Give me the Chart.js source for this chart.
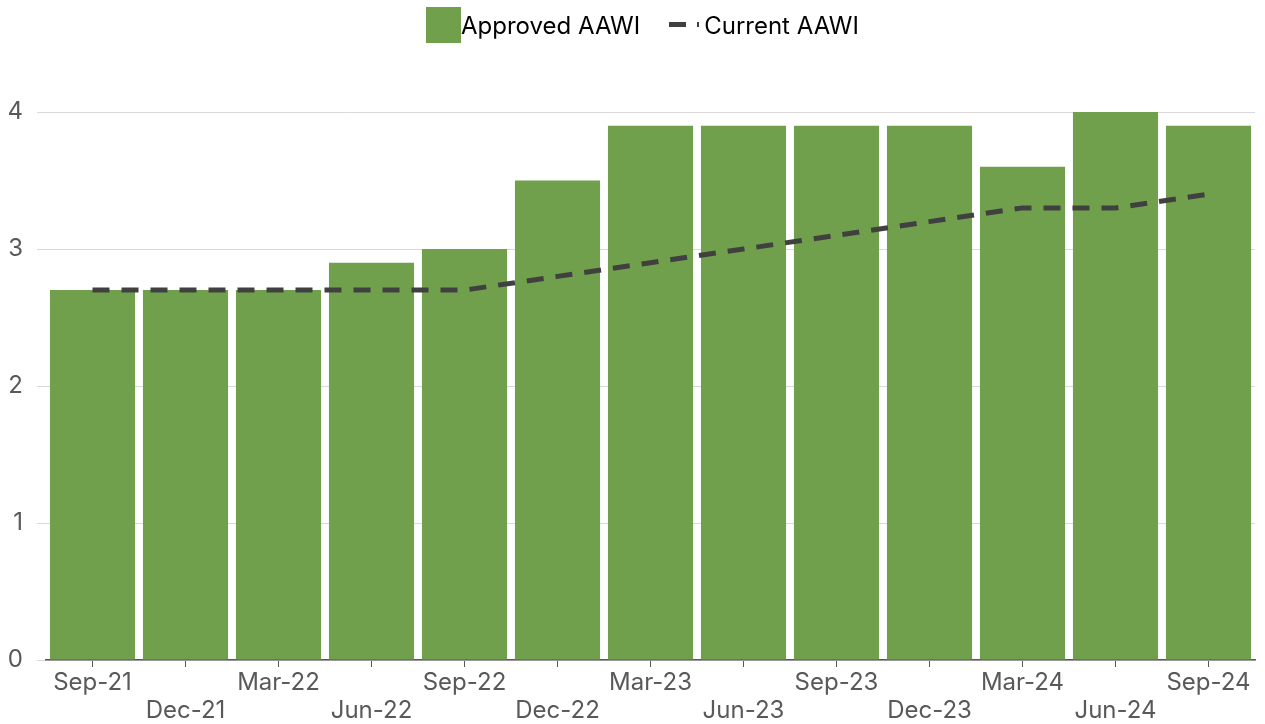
<!DOCTYPE html>
<html>
<head>
<meta charset="utf-8">
<script src="https://cdn.jsdelivr.net/npm/chart.js@4.4.1/dist/chart.umd.min.js"></script>
<style>
  html, body { margin: 0; padding: 0; background: #fff; }
  #wrap { position: relative; width: 1265px; height: 724px; }
  #legend {
    position: absolute; top: 7px; left: 426px;
    display: flex; align-items: center;
    font-family: Inter, "Noto Sans", sans-serif; font-size: 24px; color: #000;
  }
  .item { display: flex; align-items: center; }
  .box { width: 35px; height: 36px; background: #70a04b; }
  .dash { width: 35px; height: 36px; margin-left: 29px; position: relative; }
  .dash span { position: absolute; top: 15px; height: 5px; background: #404040; }
</style>
</head>
<body>
<div id="wrap">
  <div id="legend">
    <div class="item"><div class="box"></div><span>Approved AAWI</span></div>
    <div class="item"><div class="dash"><span style="left:0;width:17px"></span><span style="left:28px;width:2px"></span></div><span>Current AAWI</span></div>
  </div>
  <canvas id="aawiChart"></canvas>
</div>
<script>
// data
const quarters = ['Sep-21', 'Dec-21', 'Mar-22', 'Jun-22', 'Sep-22', 'Dec-22', 'Mar-23',
  'Jun-23', 'Sep-23', 'Dec-23', 'Mar-24', 'Jun-24', 'Sep-24'];
const approvedAAWI = [2.7, 2.7, 2.7, 2.9, 3.0, 3.5, 3.9, 3.9, 3.9, 3.9, 3.6, 4.0, 3.9];
const currentAAWI = [2.7, 2.7, 2.7, 2.7, 2.7, 2.8, 2.9, 3.0, 3.1, 3.2, 3.3, 3.3, 3.4];
const yTicks = [0, 1, 2, 3, 4];

Chart.defaults.font.family = 'Inter, "Noto Sans", sans-serif';
Chart.defaults.font.size = 24;
Chart.defaults.color = '#595959';

let aawiChart = new Chart(document.getElementById('aawiChart'), {
  type: 'bar',
  data: {
    labels: quarters,
    datasets: [{
      type: 'line',
      label: 'Current AAWI',
      data: currentAAWI,
      borderColor: '#404040',
      borderWidth: 5,
      borderDash: [17, 12],
      pointRadius: 0,
      tension: 0,
      order: 0
    }, {
      label: 'Approved AAWI',
      data: approvedAAWI,
      backgroundColor: '#70a04b',
      barPercentage: 1,
      categoryPercentage: 0.915,
      order: 1
    }]
  },
  options: {
    responsive: true,
    maintainAspectRatio: false,
    animation: false,
    layout: { padding: { top: 112, left: 9, right: 10, bottom: 0 } },
    plugins: {
      legend: { display: false },
      tooltip: { enabled: false }
    },
    scales: {
      x: {
        afterFit: axis => { axis.height = 64; },
        grid: { drawOnChartArea: false, offset: false, tickLength: 7, color: '#595959' },
        border: { color: '#595959', width: 1.5 },
        ticks: {
          autoSkip: false,
          maxRotation: 0,
          padding: 2,
          font: { lineHeight: 1.17 },
          callback: (v, i) => i % 2 === 0 ? [quarters[i], ''] : ['', quarters[i]]
        }
      },
      y: {
        min: yTicks[0],
        max: yTicks[yTicks.length - 1],
        afterBuildTicks: axis => { axis.ticks = yTicks.map(v => ({ value: v })); },
        afterFit: axis => { axis.width = 37; },
        grid: { color: '#d9d9d9', tickLength: 9 },
        border: { display: false },
        ticks: { padding: 14 }
      }
    }
  }
});
</script>
</body>
</html>
